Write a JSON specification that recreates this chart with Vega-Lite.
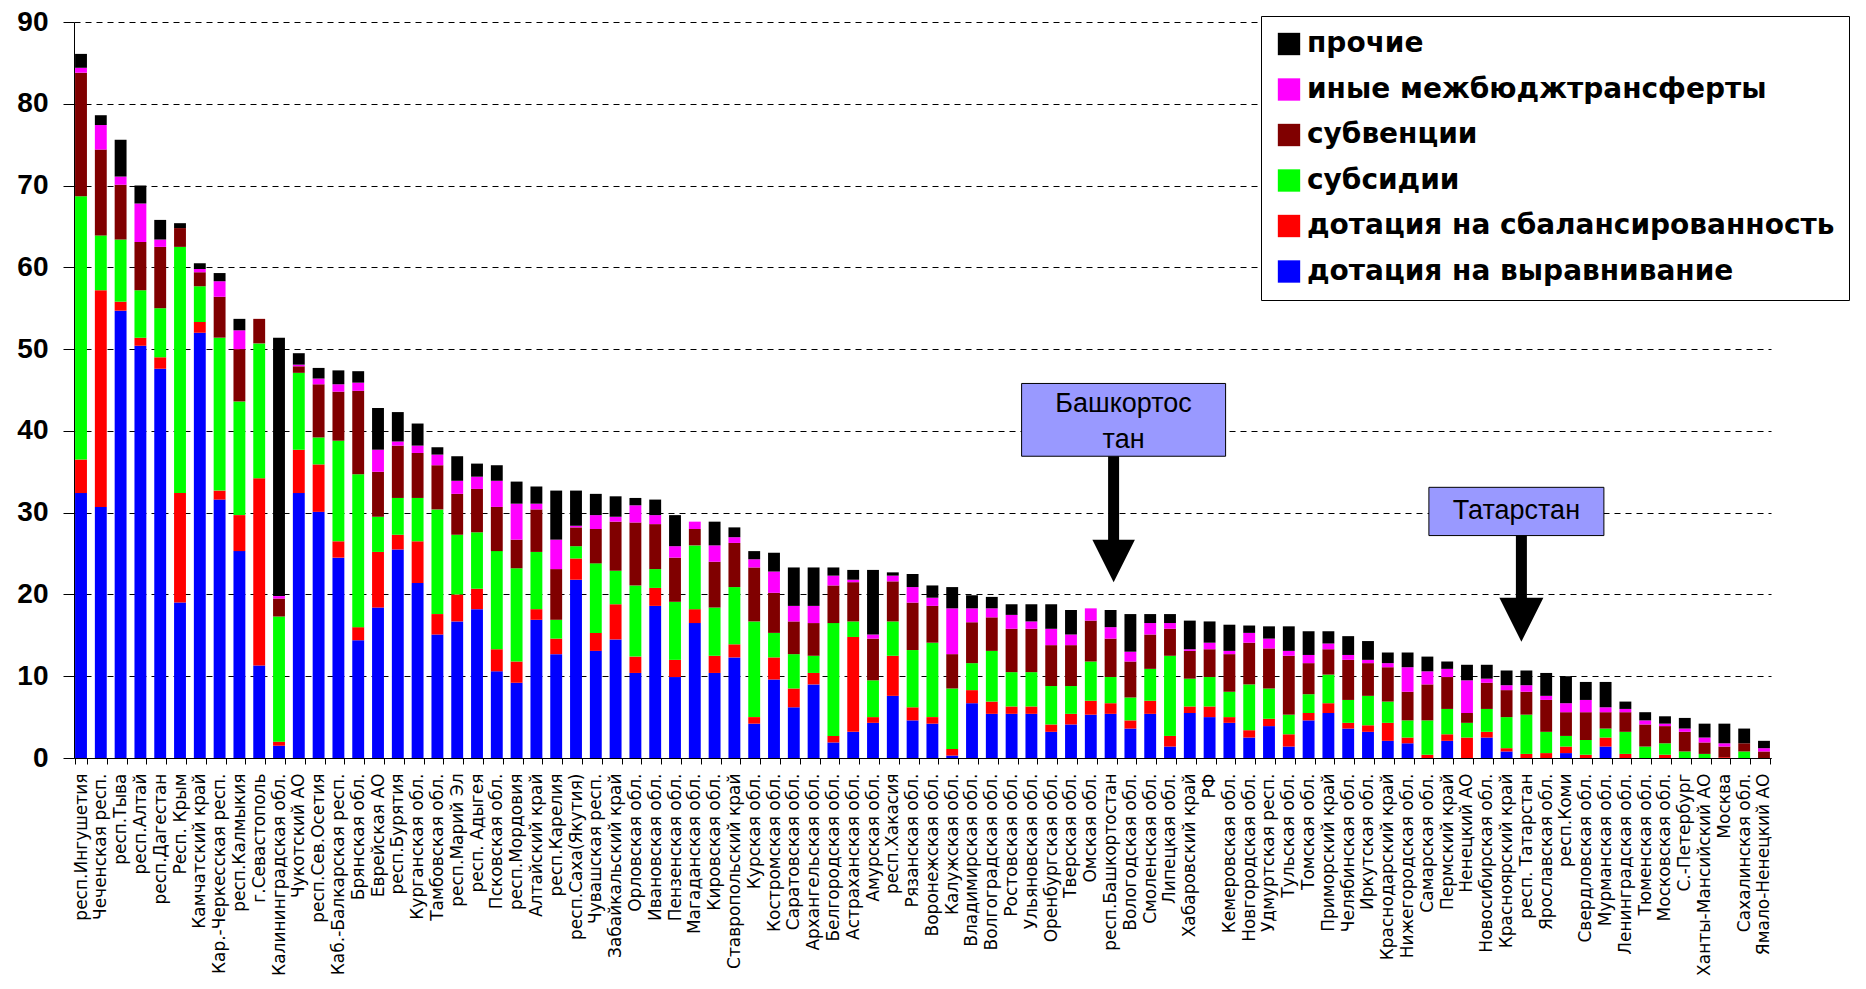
{
  "$schema": "https://vega.github.io/schema/vega-lite/v6.json",
  "width": 1697,
  "height": 736,
  "autosize": {"type": "none"},
  "padding": {"left": 74, "top": 22, "right": 95, "bottom": 231},
  "background": "white",
  "config": {"view": {"stroke": null}, "font": "Liberation Sans"},
  "datasets": {
    "regions": [
      {"r": "респ.Ингушетия", "vyr": 32.4, "sbal": 4.1, "subs": 32.2, "subv": 15.1, "inye": 0.6, "proch": 1.7},
      {"r": "Чеченская респ.", "vyr": 30.7, "sbal": 26.5, "subs": 6.7, "subv": 10.5, "inye": 3.0, "proch": 1.2},
      {"r": "респ.Тыва", "vyr": 54.7, "sbal": 1.1, "subs": 7.6, "subv": 6.7, "inye": 1.0, "proch": 4.5},
      {"r": "респ.Алтай", "vyr": 50.4, "sbal": 1.0, "subs": 5.8, "subv": 5.9, "inye": 4.7, "proch": 2.2},
      {"r": "респ.Дагестан", "vyr": 47.6, "sbal": 1.4, "subs": 6.0, "subv": 7.5, "inye": 0.9, "proch": 2.4},
      {"r": "Респ. Крым", "vyr": 19.0, "sbal": 13.4, "subs": 30.1, "subv": 2.3, "inye": 0, "proch": 0.6},
      {"r": "Камчатский край", "vyr": 52.0, "sbal": 1.3, "subs": 4.4, "subv": 1.7, "inye": 0.4, "proch": 0.7},
      {"r": "Кар.-Черкесская респ.", "vyr": 31.6, "sbal": 1.1, "subs": 18.7, "subv": 5.0, "inye": 1.9, "proch": 1.0},
      {"r": "респ.Калмыкия", "vyr": 25.3, "sbal": 4.4, "subs": 13.9, "subv": 6.4, "inye": 2.3, "proch": 1.4},
      {"r": "г.Севастополь", "vyr": 11.3, "sbal": 22.9, "subs": 16.5, "subv": 3.0, "inye": 0, "proch": 0},
      {"r": "Калининградская обл.", "vyr": 1.5, "sbal": 0.5, "subs": 15.3, "subv": 2.2, "inye": 0.3, "proch": 31.6},
      {"r": "Чукотский АО", "vyr": 32.4, "sbal": 5.3, "subs": 9.4, "subv": 0.8, "inye": 0.2, "proch": 1.4},
      {"r": "респ.Сев.Осетия", "vyr": 30.1, "sbal": 5.8, "subs": 3.3, "subv": 6.5, "inye": 0.7, "proch": 1.3},
      {"r": "Каб.-Балкарская респ.", "vyr": 24.5, "sbal": 2.0, "subs": 12.3, "subv": 6.0, "inye": 0.9, "proch": 1.7},
      {"r": "Брянская обл.", "vyr": 14.4, "sbal": 1.6, "subs": 18.7, "subv": 10.2, "inye": 1.0, "proch": 1.4},
      {"r": "Еврейская АО", "vyr": 18.4, "sbal": 6.8, "subs": 4.3, "subv": 5.5, "inye": 2.7, "proch": 5.1},
      {"r": "респ.Бурятия", "vyr": 25.5, "sbal": 1.8, "subs": 4.5, "subv": 6.4, "inye": 0.5, "proch": 3.6},
      {"r": "Курганская обл.", "vyr": 21.4, "sbal": 5.1, "subs": 5.3, "subv": 5.5, "inye": 0.9, "proch": 2.7},
      {"r": "Тамбовская обл.", "vyr": 15.1, "sbal": 2.5, "subs": 12.8, "subv": 5.4, "inye": 1.3, "proch": 0.9},
      {"r": "респ.Марий Эл", "vyr": 16.7, "sbal": 3.3, "subs": 7.3, "subv": 5.0, "inye": 1.6, "proch": 3.0},
      {"r": "респ. Адыгея", "vyr": 18.2, "sbal": 2.5, "subs": 6.9, "subv": 5.3, "inye": 1.5, "proch": 1.6},
      {"r": "Псковская обл.", "vyr": 10.6, "sbal": 2.7, "subs": 12.0, "subv": 5.4, "inye": 3.2, "proch": 1.9},
      {"r": "респ.Мордовия", "vyr": 9.2, "sbal": 2.6, "subs": 11.4, "subv": 3.5, "inye": 4.4, "proch": 2.7},
      {"r": "Алтайский край", "vyr": 16.9, "sbal": 1.3, "subs": 7.0, "subv": 5.2, "inye": 0.7, "proch": 2.1},
      {"r": "респ.Карелия", "vyr": 12.7, "sbal": 1.9, "subs": 2.3, "subv": 6.2, "inye": 3.6, "proch": 6.0},
      {"r": "респ.Саха(Якутия)", "vyr": 21.8, "sbal": 2.6, "subs": 1.5, "subv": 2.3, "inye": 0.2, "proch": 4.3},
      {"r": "Чувашская респ.", "vyr": 13.1, "sbal": 2.2, "subs": 8.5, "subv": 4.2, "inye": 1.7, "proch": 2.6},
      {"r": "Забайкальский край", "vyr": 14.5, "sbal": 4.3, "subs": 4.1, "subv": 6.0, "inye": 0.6, "proch": 2.5},
      {"r": "Орловская обл.", "vyr": 10.4, "sbal": 2.0, "subs": 8.7, "subv": 7.7, "inye": 2.1, "proch": 0.9},
      {"r": "Ивановская обл.", "vyr": 18.6, "sbal": 2.2, "subs": 2.3, "subv": 5.5, "inye": 1.1, "proch": 1.9},
      {"r": "Пензенская обл.", "vyr": 9.9, "sbal": 2.1, "subs": 7.1, "subv": 5.4, "inye": 1.4, "proch": 3.8},
      {"r": "Магаданская обл.", "vyr": 16.5, "sbal": 1.7, "subs": 7.8, "subv": 2.0, "inye": 0.9, "proch": 0},
      {"r": "Кировская обл.", "vyr": 10.4, "sbal": 2.1, "subs": 5.9, "subv": 5.6, "inye": 2.0, "proch": 2.9},
      {"r": "Ставропольский край", "vyr": 12.3, "sbal": 1.6, "subs": 7.0, "subv": 5.4, "inye": 0.7, "proch": 1.2},
      {"r": "Курская обл.", "vyr": 4.2, "sbal": 0.8, "subs": 11.7, "subv": 6.6, "inye": 1.0, "proch": 1.0},
      {"r": "Костромская обл.", "vyr": 9.6, "sbal": 2.7, "subs": 3.0, "subv": 4.9, "inye": 2.6, "proch": 2.3},
      {"r": "Саратовская обл.", "vyr": 6.2, "sbal": 2.3, "subs": 4.2, "subv": 4.0, "inye": 1.9, "proch": 4.7},
      {"r": "Архангельская обл.", "vyr": 9.0, "sbal": 1.4, "subs": 2.1, "subv": 4.0, "inye": 2.1, "proch": 4.7},
      {"r": "Белгородская обл.", "vyr": 1.9, "sbal": 0.8, "subs": 13.8, "subv": 4.6, "inye": 1.2, "proch": 1.0},
      {"r": "Астраханская обл.", "vyr": 3.2, "sbal": 11.6, "subs": 1.9, "subv": 4.8, "inye": 0.3, "proch": 1.2},
      {"r": "Амурская обл.", "vyr": 4.3, "sbal": 0.7, "subs": 4.5, "subv": 5.1, "inye": 0.5, "proch": 7.9},
      {"r": "респ.Хакасия", "vyr": 7.6, "sbal": 4.9, "subs": 4.2, "subv": 4.9, "inye": 0.7, "proch": 0.4},
      {"r": "Рязанская обл.", "vyr": 4.6, "sbal": 1.6, "subs": 7.0, "subv": 5.8, "inye": 1.9, "proch": 1.6},
      {"r": "Воронежская обл.", "vyr": 4.2, "sbal": 0.8, "subs": 9.1, "subv": 4.5, "inye": 1.0, "proch": 1.5},
      {"r": "Калужская обл.", "vyr": 0.3, "sbal": 0.8, "subs": 7.4, "subv": 4.2, "inye": 5.6, "proch": 2.6},
      {"r": "Владимирская обл.", "vyr": 6.7, "sbal": 1.6, "subs": 3.3, "subv": 5.0, "inye": 1.7, "proch": 1.6},
      {"r": "Волгоградская обл.", "vyr": 5.4, "sbal": 1.5, "subs": 6.2, "subv": 4.1, "inye": 1.1, "proch": 1.4},
      {"r": "Ростовская обл.", "vyr": 5.4, "sbal": 0.9, "subs": 4.2, "subv": 5.3, "inye": 1.7, "proch": 1.3},
      {"r": "Ульяновская обл.", "vyr": 5.4, "sbal": 0.9, "subs": 4.2, "subv": 5.3, "inye": 0.9, "proch": 2.1},
      {"r": "Оренбургская обл.", "vyr": 3.2, "sbal": 0.9, "subs": 4.7, "subv": 5.0, "inye": 2.0, "proch": 3.0},
      {"r": "Тверская обл.", "vyr": 4.1, "sbal": 1.3, "subs": 3.4, "subv": 5.0, "inye": 1.3, "proch": 3.0},
      {"r": "Омская обл.", "vyr": 5.3, "sbal": 1.7, "subs": 4.8, "subv": 5.0, "inye": 1.5, "proch": 0},
      {"r": "респ.Башкортостан", "vyr": 5.4, "sbal": 1.3, "subs": 3.2, "subv": 4.7, "inye": 1.4, "proch": 2.1},
      {"r": "Вологодская обл.", "vyr": 3.6, "sbal": 1.0, "subs": 2.8, "subv": 4.4, "inye": 1.2, "proch": 4.6},
      {"r": "Смоленская обл.", "vyr": 5.4, "sbal": 1.6, "subs": 3.9, "subv": 4.2, "inye": 1.4, "proch": 1.1},
      {"r": "Липецкая обл.", "vyr": 1.4, "sbal": 1.3, "subs": 9.8, "subv": 3.3, "inye": 0.7, "proch": 1.1},
      {"r": "Хабаровский край", "vyr": 5.5, "sbal": 0.8, "subs": 3.4, "subv": 3.4, "inye": 0.2, "proch": 3.5},
      {"r": "РФ", "vyr": 5.0, "sbal": 1.3, "subs": 3.6, "subv": 3.4, "inye": 0.8, "proch": 2.6},
      {"r": "Кемеровская обл.", "vyr": 4.3, "sbal": 0.7, "subs": 3.1, "subv": 4.6, "inye": 0.4, "proch": 3.2},
      {"r": "Новгородская обл.", "vyr": 2.5, "sbal": 0.9, "subs": 5.6, "subv": 5.1, "inye": 1.2, "proch": 0.9},
      {"r": "Удмуртская респ.", "vyr": 3.9, "sbal": 0.9, "subs": 3.7, "subv": 4.9, "inye": 1.2, "proch": 1.5},
      {"r": "Тульская обл.", "vyr": 1.4, "sbal": 1.5, "subs": 2.4, "subv": 7.2, "inye": 0.6, "proch": 3.0},
      {"r": "Томская обл.", "vyr": 4.6, "sbal": 0.9, "subs": 2.3, "subv": 3.8, "inye": 1.0, "proch": 2.9},
      {"r": "Приморский край", "vyr": 5.5, "sbal": 1.2, "subs": 3.5, "subv": 3.1, "inye": 0.7, "proch": 1.5},
      {"r": "Челябинская обл.", "vyr": 3.6, "sbal": 0.7, "subs": 2.8, "subv": 4.9, "inye": 0.6, "proch": 2.3},
      {"r": "Иркутская обл.", "vyr": 3.2, "sbal": 0.8, "subs": 3.6, "subv": 4.0, "inye": 0.4, "proch": 2.3},
      {"r": "Краснодарский край", "vyr": 2.1, "sbal": 2.2, "subs": 2.6, "subv": 4.2, "inye": 0.5, "proch": 1.3},
      {"r": "Нижегородская обл.", "vyr": 1.8, "sbal": 0.7, "subs": 2.1, "subv": 3.5, "inye": 3.0, "proch": 1.8},
      {"r": "Самарская обл.", "vyr": 0, "sbal": 0.4, "subs": 4.2, "subv": 4.4, "inye": 1.6, "proch": 1.8},
      {"r": "Пермский край", "vyr": 2.1, "sbal": 0.8, "subs": 3.1, "subv": 3.9, "inye": 1.0, "proch": 0.9},
      {"r": "Ненецкий АО", "vyr": 0, "sbal": 2.5, "subs": 1.8, "subv": 1.2, "inye": 4.0, "proch": 1.9},
      {"r": "Новосибирская обл.", "vyr": 2.5, "sbal": 0.7, "subs": 2.8, "subv": 3.2, "inye": 0.5, "proch": 1.7},
      {"r": "Красноярский край", "vyr": 0.8, "sbal": 0.4, "subs": 3.8, "subv": 3.3, "inye": 0.6, "proch": 1.8},
      {"r": "респ. Татарстан", "vyr": 0, "sbal": 0.5, "subs": 4.8, "subv": 2.8, "inye": 0.8, "proch": 1.8},
      {"r": "Ярославская обл.", "vyr": 0, "sbal": 0.6, "subs": 2.6, "subv": 3.9, "inye": 0.5, "proch": 2.8},
      {"r": "респ.Коми", "vyr": 0.6, "sbal": 0.8, "subs": 1.3, "subv": 2.9, "inye": 1.1, "proch": 3.3},
      {"r": "Свердловская обл.", "vyr": 0, "sbal": 0.4, "subs": 1.8, "subv": 3.4, "inye": 1.5, "proch": 2.2},
      {"r": "Мурманская обл.", "vyr": 1.4, "sbal": 1.1, "subs": 1.1, "subv": 2.0, "inye": 0.6, "proch": 3.1},
      {"r": "Ленинградская обл.", "vyr": 0, "sbal": 0.5, "subs": 2.7, "subv": 2.4, "inye": 0.4, "proch": 0.9},
      {"r": "Тюменская обл.", "vyr": 0, "sbal": 0, "subs": 1.4, "subv": 2.7, "inye": 0.5, "proch": 1.0},
      {"r": "Московская обл.", "vyr": 0, "sbal": 0.4, "subs": 1.4, "subv": 2.1, "inye": 0.3, "proch": 0.9},
      {"r": "С.-Петербург", "vyr": 0, "sbal": 0, "subs": 0.8, "subv": 2.4, "inye": 0.4, "proch": 1.3},
      {"r": "Ханты-Мансийский АО", "vyr": 0, "sbal": 0, "subs": 0.5, "subv": 1.4, "inye": 0.6, "proch": 1.7},
      {"r": "Москва", "vyr": 0, "sbal": 0.1, "subs": 0, "subv": 1.3, "inye": 0.4, "proch": 2.4},
      {"r": "Сахалинская обл.", "vyr": 0, "sbal": 0, "subs": 0.8, "subv": 1.0, "inye": 0, "proch": 1.8},
      {"r": "Ямало-Ненецкий АО", "vyr": 0, "sbal": 0, "subs": 0, "subv": 0.8, "inye": 0.4, "proch": 0.9}
    ]
  },
  "layer": [
    {
      "data": {"name": "regions"},
      "transform": [
        {"fold": ["vyr", "sbal", "subs", "subv", "inye", "proch"], "as": ["k", "value"]},
        {"calculate": "indexof(['vyr','sbal','subs','subv','inye','proch'], datum.k)", "as": "ord"}
      ],
      "mark": {"type": "bar"},
      "encoding": {
        "x": {
          "field": "r", "type": "nominal", "sort": null, "title": null,
          "scale": {"paddingInner": 0.4, "paddingOuter": 0.054},
          "axis": {
            "labelAngle": -90, "labelAlign": "right", "labelBaseline": "middle",
            "labelFont": "DejaVu Sans", "labelFontSize": 17, "labelColor": "black",
            "labelPadding": 9, "labelLimit": 500, "labelOverlap": false,
            "tickBand": "extent", "tickSize": 6, "tickColor": "black",
            "domainColor": "black", "grid": false
          }
        },
        "y": {
          "field": "value", "type": "quantitative", "stack": "zero", "title": null,
          "scale": {"domain": [0, 90], "nice": false},
          "axis": {
            "values": [0, 10, 20, 30, 40, 50, 60, 70, 80, 90],
            "grid": true, "gridDash": [6, 5], "gridColor": "black", "gridOpacity": 1, "gridWidth": 1,
            "domainColor": "black", "tickColor": "black", "tickSize": 11,
            "labelFont": "Liberation Sans", "labelFontWeight": "bold", "labelFontSize": 28,
            "labelColor": "black", "labelPadding": 15
          }
        },
        "color": {
          "field": "k", "type": "nominal",
          "scale": {
            "domain": ["proch", "inye", "subv", "subs", "sbal", "vyr"],
            "range": ["#000000", "#FF00FF", "#800000", "#00FF00", "#FF0000", "#0000FF"]
          },
          "legend": {
            "orient": "none", "legendX": 1187, "legendY": -6, "title": null,
            "fillColor": "white", "strokeColor": "black", "padding": 14,
            "symbolType": "square", "symbolSize": 500, "symbolStrokeWidth": 0,
            "labelFont": "DejaVu Sans", "labelFontSize": 28, "labelFontWeight": "bold",
            "labelColor": "black", "rowPadding": 17.5, "labelOffset": 4, "labelLimit": 800,
            "labelExpr": "{proch: 'прочие', inye: 'иные межбюджтрансферты', subv: 'субвенции', subs: 'субсидии', sbal: 'дотация на сбалансированность', vyr: 'дотация на выравнивание'}[datum.value]"
          }
        },
        "order": {"field": "ord", "type": "quantitative", "sort": "ascending"}
      }
    },
    {
      "data": {"values": [{"r": "респ.Башкортостан", "top": 45.8, "bot": 36.9, "mid": 41.35, "label": ["Башкортос", "тан"], "shaftEnd": 26, "head": 24.1}]},
      "layer": [
        {
          "mark": {"type": "bar", "width": 204, "xOffset": 13, "fill": "#9999FF", "stroke": "black", "strokeWidth": 1},
          "encoding": {
            "x": {"field": "r", "type": "nominal", "sort": null, "title": null},
            "y": {"field": "top", "type": "quantitative", "title": null},
            "y2": {"field": "bot"}
          }
        },
        {
          "mark": {"type": "rule", "strokeWidth": 11, "color": "black", "xOffset": 3},
          "encoding": {
            "x": {"field": "r", "type": "nominal", "sort": null, "title": null},
            "y": {"field": "bot", "type": "quantitative", "title": null},
            "y2": {"field": "shaftEnd"}
          }
        },
        {
          "mark": {"type": "point", "shape": "M-1,-1L1,-1L0,1Z", "size": 1806, "filled": true, "color": "black", "opacity": 1, "xOffset": 3},
          "encoding": {
            "x": {"field": "r", "type": "nominal", "sort": null, "title": null},
            "y": {"field": "head", "type": "quantitative", "title": null}
          }
        },
        {
          "mark": {"type": "text", "font": "Liberation Sans", "fontSize": 27, "color": "black", "baseline": "middle", "align": "center", "lineHeight": 36, "dy": -16, "xOffset": 13},
          "encoding": {
            "x": {"field": "r", "type": "nominal", "sort": null, "title": null},
            "y": {"field": "mid", "type": "quantitative", "title": null},
            "text": {"field": "label"}
          }
        }
      ]
    },
    {
      "data": {"values": [{"r": "респ. Татарстан", "top": 33.1, "bot": 27.2, "mid": 30.15, "label": "Татарстан", "shaftEnd": 19, "head": 16.9}]},
      "layer": [
        {
          "mark": {"type": "bar", "width": 175, "xOffset": -10, "fill": "#9999FF", "stroke": "black", "strokeWidth": 1},
          "encoding": {
            "x": {"field": "r", "type": "nominal", "sort": null, "title": null},
            "y": {"field": "top", "type": "quantitative", "title": null},
            "y2": {"field": "bot"}
          }
        },
        {
          "mark": {"type": "rule", "strokeWidth": 11, "color": "black", "xOffset": -5},
          "encoding": {
            "x": {"field": "r", "type": "nominal", "sort": null, "title": null},
            "y": {"field": "bot", "type": "quantitative", "title": null},
            "y2": {"field": "shaftEnd"}
          }
        },
        {
          "mark": {"type": "point", "shape": "M-1,-1L1,-1L0,1Z", "size": 1936, "filled": true, "color": "black", "opacity": 1, "xOffset": -5},
          "encoding": {
            "x": {"field": "r", "type": "nominal", "sort": null, "title": null},
            "y": {"field": "head", "type": "quantitative", "title": null}
          }
        },
        {
          "mark": {"type": "text", "font": "Liberation Sans", "fontSize": 27, "color": "black", "baseline": "middle", "align": "center", "xOffset": -10},
          "encoding": {
            "x": {"field": "r", "type": "nominal", "sort": null, "title": null},
            "y": {"field": "mid", "type": "quantitative", "title": null},
            "text": {"field": "label"}
          }
        }
      ]
    }
  ]
}
